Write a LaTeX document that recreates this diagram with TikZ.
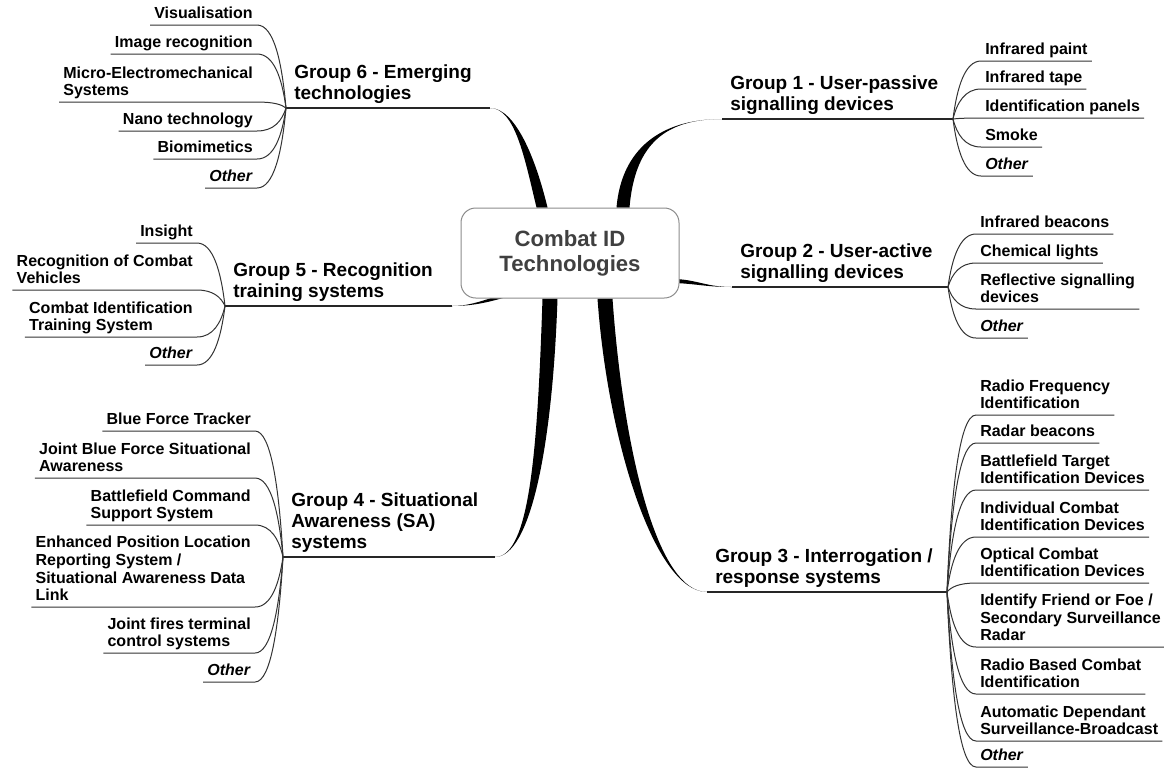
\documentclass[tikz,border=0pt]{standalone}
\usepackage{fontspec}
\setmainfont{Liberation Sans}
\usetikzlibrary{calc,backgrounds}

\begin{document}
\begin{tikzpicture}[x=0.75pt, y=-0.75pt,
    hub/.style={draw=black!45, fill=white, line width=0.75pt, rounded corners=11pt,
      minimum width=163.5pt, minimum height=67.5pt, align=center, text=black!75,
      font=\fontsize{16.6}{18.75}\selectfont\bfseries},
    grp/.style={align=left, inner xsep=6pt, inner ysep=3.3pt, text depth=3pt,
      font=\fontsize{14.25}{15.7}\selectfont\bfseries},
    leaf/.style={align=left, inner xsep=3pt, inner ysep=1.8pt, text depth=2.6pt,
      font=\fontsize{12}{13.3}\selectfont\bfseries},
    stem/.style={draw=black!85, line width=1pt},
    wire/.style={draw=black!80, line width=0.75pt},
    limb/.style={fill=black},
    twig/.style={to path={.. controls ($(\tikztostart)!0.55!(\tikztostart|-\tikztotarget)+(#1,0)$)
      and ($(\tikztostart|-\tikztotarget)+(3*#1,0)$) .. (\tikztotarget)}}]
    \useasboundingbox (0,0) rectangle (1164,769);

    % centre
    \node[hub] (hub) at (570,253) {Combat ID\\Technologies};

    % group lines: t = hub side, b = branch side
    \coordinate (t1) at (722,119);  \coordinate (b1) at (953,119);
    \coordinate (t2) at (732,287);  \coordinate (b2) at (948,287);
    \coordinate (t3) at (707,592);  \coordinate (b3) at (947,592);
    \coordinate (t4) at (495,557);  \coordinate (b4) at (283,557);
    \coordinate (t5) at (452,306);  \coordinate (b5) at (225,306);
    \coordinate (t6) at (490,108);  \coordinate (b6) at (286,108);

    \node[grp, anchor=south west] (g1) at (t1) {Group 1 - User-passive\\signalling devices};
    \node[grp, anchor=south west] (g2) at (t2) {Group 2 - User-active\\signalling devices};
    \node[grp, anchor=south west] (g3) at (t3) {Group 3 - Interrogation /\\response systems};
    \node[grp, anchor=south west] (g4) at (b4) {Group 4 - Situational\\Awareness (SA)\\systems};
    \node[grp, anchor=south west] (g5) at (b5) {Group 5 - Recognition\\training systems};
    \node[grp, anchor=south west] (g6) at (b6) {Group 6 - Emerging\\technologies};

    \foreach \n in {1,...,6}
        \draw[stem] (t\n) -- (b\n);

    % thick branches behind the centre box
    \begin{scope}[on background layer]
        \coordinate (s1) at ($(hub.north)+(53,0)$);
        \coordinate (s2) at ($(hub.east)+(-4,28)$);
        \coordinate (s3) at ($(hub.south)+(35,0)$);
        \coordinate (s4) at ($(hub.south)+(-20,0)$);
        \coordinate (s5) at ($(hub.south)+(-62,-4)$);
        \coordinate (s6) at ($(hub.north)+(-28,0)$);
        \fill[limb] ($(s1)+(-6.5,0)$) .. controls ($(s1)+(-1.5,-58)$) and ($(t1)+(-62,0)$) .. (t1)
            .. controls ($(t1)+(-62,0)$) and ($(s1)+(11.5,-58)$) .. ($(s1)+(6.5,0)$) -- cycle;
        \fill[limb] ($(s2)+(0,-2)$) .. controls ($(s2)+(22,-1)$) and ($(t2)+(-25,0)$) .. (t2)
            .. controls ($(t2)+(-25,0)$) and ($(s2)+(22,3)$) .. ($(s2)+(0,2)$) -- cycle;
        \fill[limb] ($(s3)+(-7.5,0)$) .. controls ($(s3)+(2.5,142)$) and ($(t3)+(-52,0)$) .. (t3)
            .. controls ($(t3)+(-52,0)$) and ($(s3)+(17.5,142)$) .. ($(s3)+(7.5,0)$) -- cycle;
        \fill[limb] ($(s4)+(-7.5,0)$) .. controls ($(s4)+(-12.5,150)$) and ($(t4)+(35,0)$) .. (t4)
            .. controls ($(t4)+(35,0)$) and ($(s4)+(2.5,150)$) .. ($(s4)+(7.5,0)$) -- cycle;
        \fill[limb] ($(s5)+(0,-2)$) .. controls ($(s5)+(-20,4)$) and ($(t5)+(20,0)$) .. (t5)
            .. controls ($(t5)+(20,0)$) and ($(s5)+(-20,8)$) .. ($(s5)+(0,2)$) -- cycle;
        \fill[limb] ($(s6)+(-5.5,0)$) .. controls ($(s6)+(-17.5,-50)$) and ($(t6)+(25,0)$) .. (t6)
            .. controls ($(t6)+(25,0)$) and ($(s6)+(-6.5,-50)$) .. ($(s6)+(5.5,0)$) -- cycle;
    \end{scope}

    % Group 1
    \foreach \y/\lbl [count=\i] in {61/Infrared paint, 89/Infrared tape, 118/Identification panels,
        147/Smoke, 176/\textit{Other}} {
        \node[leaf, anchor=south west] (g1c\i) at (981,\y) {\lbl};
        \draw[wire] (b1) to[twig=4] (g1c\i.south west) -- (g1c\i.south east);
    }

    % Group 2
    \foreach \y/\lbl [count=\i] in {234/Infrared beacons, 263/Chemical lights,
        309/Reflective signalling\\devices, 338/\textit{Other}} {
        \node[leaf, anchor=south west] (g2c\i) at (976,\y) {\lbl};
        \draw[wire] (b2) to[twig=4] (g2c\i.south west) -- (g2c\i.south east);
    }

    % Group 3
    \foreach \y/\lbl [count=\i] in {415/Radio Frequency\\Identification, 443/Radar beacons,
        490/Battlefield Target\\Identification Devices, 537/Individual Combat\\Identification Devices,
        583/Optical Combat\\Identification Devices,
        647/Identify Friend or Foe {/}\\Secondary Surveillance\\Radar,
        694/Radio Based Combat\\Identification, 741/Automatic Dependant\\Surveillance-Broadcast,
        767/\textit{Other}} {
        \node[leaf, anchor=south west] (g3c\i) at (976,\y) {\lbl};
        \draw[wire] (b3) to[twig=4] (g3c\i.south west) -- (g3c\i.south east);
    }

    % Group 4
    \foreach \y/\lbl [count=\i] in {431/Blue Force Tracker, 478/Joint Blue Force Situational\\Awareness,
        525/Battlefield Command\\Support System,
        607/Enhanced Position Location\\Reporting System {/}\\Situational Awareness Data\\Link,
        653/Joint fires terminal\\control systems, 682/\textit{Other}} {
        \node[leaf, anchor=south east] (g4c\i) at (255,\y) {\lbl};
        \draw[wire] (b4) to[twig=-4] (g4c\i.south east) -- (g4c\i.south west);
    }

    % Group 5
    \foreach \y/\lbl [count=\i] in {243/Insight, 290/Recognition of Combat\\Vehicles,
        337/Combat Identification\\Training System, 365/\textit{Other}} {
        \node[leaf, anchor=south east] (g5c\i) at (197,\y) {\lbl};
        \draw[wire] (b5) to[twig=-4] (g5c\i.south east) -- (g5c\i.south west);
    }

    % Group 6
    \foreach \y/\lbl [count=\i] in {25/Visualisation, 54/Image recognition,
        102/Micro-Electromechanical\\Systems, 131/Nano technology, 159/Biomimetics,
        188/\textit{Other}} {
        \node[leaf, anchor=south east] (g6c\i) at (257,\y) {\lbl};
        \draw[wire] (b6) to[twig=-4] (g6c\i.south east) -- (g6c\i.south west);
    }
\end{tikzpicture}
\end{document}
